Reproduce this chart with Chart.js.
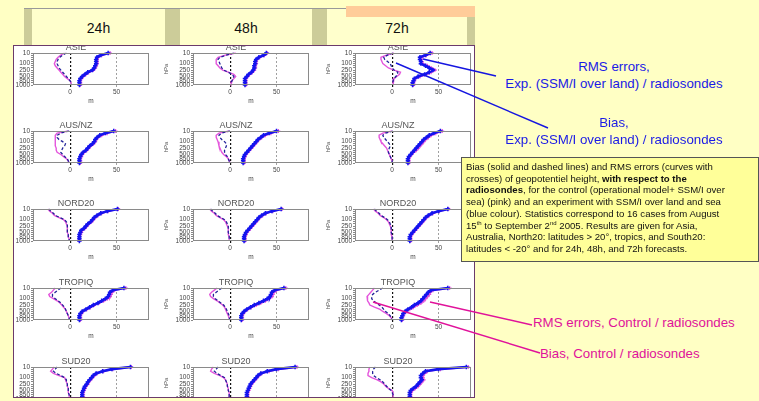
<!DOCTYPE html>
<html>
<head>
<meta charset="utf-8">
<script src="https://cdn.jsdelivr.net/npm/chart.js@4/dist/chart.umd.min.js"></script>
<style>
  body { margin: 0; width: 759px; height: 401px; overflow: hidden; background: #FFFFC4; position: relative; font-family: "Liberation Sans", Arial, sans-serif; }
  .abs { position: absolute; }
  #panel { position: absolute; left: 13px; top: 45px; width: 460px; height: 351px; background: #fff; border: 1px solid #6b3a6b; overflow: hidden; }
  #panel canvas { position: absolute; }
  .hcell { position: absolute; top: 9px; height: 36px; background: #FFFFCC; font-size: 14px; color: #111; text-align: center; line-height: 38px; }
  .sep { position: absolute; top: 9px; height: 36px; background: #CCCC99; }
  .blue { position: absolute; color: #1a1ae6; font-size: 13.3px; text-align: center; line-height: 17px; }
  .pink { position: absolute; color: #e0129a; font-size: 13.3px; }
  #note { position: absolute; left: 461px; top: 157px; width: 288px; height: 97px; padding: 3px 4px; background: #FFFF99; border: 1px solid #555; font-size: 9.6px; line-height: 11.7px; color: #111; white-space: nowrap; }
  #note sup { font-size: 6px; line-height: 0; }
</style>
</head>
<body>

<div class="abs" style="left:24px;top:8px;width:451px;height:1px;background:#999"></div>
<div class="hcell" style="left:32px;width:133px">24h</div>
<div class="hcell" style="left:180px;width:132px">48h</div>
<div class="hcell" style="left:327px;width:140px">72h</div>
<div class="sep" style="left:24px;width:8px"></div>
<div class="sep" style="left:165px;width:15px"></div>
<div class="sep" style="left:312px;width:15px"></div>
<div class="sep" style="left:467px;width:8px"></div>
<div class="abs" style="left:346px;top:6px;width:129px;height:11px;background:#FFCC99"></div>

<div id="panel"></div>

<div class="blue" style="left:480px;top:58px;width:268px">RMS errors,<br>Exp. (SSM/I over land) / radiosondes</div>
<div class="blue" style="left:480px;top:114px;width:268px">Bias,<br>Exp. (SSM/I over land) / radiosondes</div>

<div id="note">Bias (solid and dashed lines) and RMS errors (curves with<br>crosses) of geopotentiel height, <b>with respect to the</b><br><b>radiosondes</b>, for the control (operational model+ SSM/I over<br>sea) (pink) and an experiment with SSM/I over land and sea<br>(blue colour). Statistics correspond to 16 cases from August<br>15<sup>th</sup> to September 2<sup>nd</sup> 2005. Results are given for Asia,<br>Australia, North20: latitudes &gt; 20°, tropics, and South20:<br>latitudes &lt; -20° and for 24h, 48h, and 72h forecasts.</div>

<div class="pink" style="left:533px;top:315px">RMS errors, Control / radiosondes</div>
<div class="pink" style="left:540px;top:346px">Bias, Control / radiosondes</div>

<svg class="abs" style="left:0;top:0" width="759" height="401">
  <line x1="423" y1="59" x2="496" y2="76" stroke="#1515e0" stroke-width="1.4"/>
  <line x1="396" y1="63" x2="548" y2="128" stroke="#1515e0" stroke-width="1.4"/>
  <line x1="430" y1="302" x2="532" y2="325" stroke="#e0129a" stroke-width="1.4"/>
  <line x1="373" y1="302" x2="540" y2="353" stroke="#e0129a" stroke-width="1.4"/>
</svg>

<script>
// pressure levels (hPa), top to bottom
var levels = [10, 20, 30, 50, 70, 100, 150, 200, 250, 300, 400, 500, 700, 850, 925, 1000];
var shownLevels = [10, 100, 250, 500, 850, 1000];
var regions = ["ASIE", "AUS/NZ", "NORD20", "TROPIQ", "SUD20"];
var ranges = ["24h", "48h", "72h"];

// each array: [24h, 48h, 72h], values in m
var asieBiasCtrl = [
  [-6,-10,-13,-15,-16,-17,-16,-14,-12,-10,-8,-6,-3,0,1,1],
  [6,-5,-13,-15,-15,-15,-13,-11,-8,-2,4,6,4,2,1,1],
  [2,-6,-12,-12,-11,-10,-7,-4,2,9,8,5,2,1,1,1]];
var asieBiasExp = [
  [-4,-8,-11,-13,-14,-14,-13,-12,-10,-8,-6,-4,-2,0,1,1],
  [4,-4,-11,-13,-12,-11,-10,-9,-7,-2,2,4,3,2,1,1],
  [1,-5,-9,-8,-5,-2,-1,0,2,6,6,4,2,1,1,1]];
var asieRmsCtrl = [
  [43,34,30,29,29,29,28,27,25,20,17,14,12,11,11,11],
  [40,37,32,29,28,28,27,27,26,24,21,19,17,17,17,17],
  [43,37,32,31,32,33,38,42,46,42,37,30,25,24,23,23]];
var asieRmsExp = [
  [41,33,29,28,28,28,27,26,24,19,16,13,11,10,10,10],
  [39,36,31,28,27,27,26,26,25,23,20,18,16,16,16,16],
  [41,36,30,30,31,31,36,40,44,40,35,28,24,23,22,22]];

var ausBiasCtrl = [
  [-2,-14,-16,-16,-16,-16,-16,-16,-15,-15,-14,-10,-7,-4,-2,-1],
  [-1,-12,-15,-15,-14,-13,-12,-12,-11,-10,-9,-7,-4,-2,-1,0],
  [0,-10,-14,-14,-13,-12,-10,-8,-6,-5,-4,-3,-2,-1,0,0]];
var ausBiasExp = [
  [-1,-10,-14,-14,-12,-8,-5,-6,-8,-9,-10,-8,-6,-3,-2,-1],
  [0,-9,-12,-11,-9,-6,-4,-4,-5,-6,-6,-5,-3,-2,-1,0],
  [1,-7,-10,-9,-7,-5,-3,-2,-3,-4,-4,-3,-2,-1,0,0]];
var ausRmsCtrl = [
  [49,40,34,30,28,27,25,22,20,18,15,13,12,11,11,11],
  [52,44,38,34,31,29,27,25,23,21,19,17,16,15,15,15],
  [54,47,42,39,36,34,32,30,28,26,23,21,19,18,18,18]];
var ausRmsExp = [
  [47,38,32,29,27,26,24,21,19,17,14,12,11,10,10,10],
  [50,42,36,33,30,28,26,24,22,20,18,16,15,14,14,14],
  [52,45,40,37,34,32,30,28,26,24,22,20,18,17,17,17]];

var nordBiasCtrl = [
  [-24,-22,-19,-17,-12,-7,-5,-4,-3,-3,-3,-3,-2,-2,-1,-1],
  [-22,-20,-17,-15,-11,-7,-5,-4,-3,-2,-2,-2,-2,-1,-1,-1],
  [-20,-18,-15,-13,-9,-6,-4,-3,-2,-1,-1,-1,-1,0,0,0]];
var nordBiasExp = [
  [-23,-21,-18,-16,-11,-6,-4,-3,-3,-3,-3,-3,-2,-2,-1,-1],
  [-21,-19,-16,-14,-10,-6,-4,-3,-2,-2,-2,-2,-1,-1,-1,-1],
  [-19,-17,-14,-12,-8,-5,-3,-2,-1,-1,-1,-1,0,0,0,0]];
var nordRmsCtrl = [
  [52,41,34,30,27,25,23,20,18,16,13,12,11,10,10,10],
  [56,46,39,35,32,30,28,26,24,22,20,18,17,16,16,16],
  [61,51,44,40,37,35,33,31,29,27,25,23,21,20,20,20]];
var nordRmsExp = [
  [51,40,33,29,26,24,22,19,17,15,12,11,10,10,10,10],
  [55,45,38,34,31,29,27,25,23,21,19,17,16,15,15,15],
  [60,50,43,39,36,34,32,30,28,26,24,22,20,19,19,19]];

var tropBiasCtrl = [
  [-16,-18,-20,-23,-22,-18,-14,-11,-9,-7,-5,-4,-3,-2,-1,-1],
  [-14,-17,-20,-22,-21,-18,-14,-11,-8,-6,-5,-4,-3,-2,-1,0],
  [-19,-21,-23,-25,-27,-27,-26,-25,-24,-19,-13,-10,-6,-3,-1,0]];
var tropBiasExp = [
  [-10,-13,-16,-19,-19,-16,-13,-10,-8,-6,-5,-4,-3,-2,-1,-1],
  [-9,-12,-15,-18,-18,-16,-13,-10,-7,-5,-4,-3,-2,-1,-1,0],
  [-10,-14,-18,-21,-22,-22,-20,-17,-14,-11,-9,-7,-4,-2,-1,0]];
var tropRmsCtrl = [
  [60,48,45,44,43,40,36,31,26,22,18,14,12,11,11,11],
  [60,50,47,46,45,42,38,33,28,23,19,16,14,13,13,13],
  [62,44,41,40,38,36,34,31,27,23,19,15,13,12,11,11]];
var tropRmsExp = [
  [58,46,43,42,41,38,34,30,25,21,17,13,11,10,10,10],
  [58,48,45,44,43,40,36,31,26,22,18,15,13,12,12,12],
  [60,42,39,37,35,33,31,28,24,21,17,14,12,11,10,10]];

var sudBiasCtrl = [
  [-17,-19,-21,-18,-12,-6,-5,-4,-3,-3,-2,-2,-2,-1,-1,-1],
  [-18,-20,-21,-17,-11,-7,-5,-4,-3,-3,-2,-2,-1,-1,-1,0],
  [-24,-25,-25,-26,-26,-22,-16,-12,-9,-7,-4,0,1,1,1,1]];
var sudBiasExp = [
  [-14,-16,-18,-15,-10,-6,-4,-4,-3,-3,-2,-2,-2,-1,-1,-1],
  [-13,-15,-17,-14,-10,-6,-5,-4,-3,-3,-2,-2,-1,-1,-1,0],
  [-18,-20,-21,-21,-20,-17,-13,-10,-8,-6,-4,-1,0,1,1,1]];
var sudRmsCtrl = [
  [66,46,36,29,26,24,22,20,19,17,16,15,14,14,14,14],
  [72,52,42,34,31,29,27,25,23,22,21,20,19,19,19,19],
  [82,52,38,35,33,33,34,32,30,28,25,22,20,20,20,20]];
var sudRmsExp = [
  [65,45,35,28,25,23,21,19,18,16,15,14,13,13,13,13],
  [70,50,40,33,30,28,26,24,22,21,20,19,18,18,18,18],
  [80,50,36,33,31,31,32,30,28,26,23,20,19,19,19,19]];

var regionData = [
  [asieBiasCtrl, asieBiasExp, asieRmsCtrl, asieRmsExp],
  [ausBiasCtrl, ausBiasExp, ausRmsCtrl, ausRmsExp],
  [nordBiasCtrl, nordBiasExp, nordRmsCtrl, nordRmsExp],
  [tropBiasCtrl, tropBiasExp, tropRmsCtrl, tropRmsExp],
  [sudBiasCtrl, sudBiasExp, sudRmsCtrl, sudRmsExp]
];

var pink = "#e455dc";
var blue = "#1414ee";
var navy = "#22229a";

// plot box positions on the page
var colBox = [33, 193, 355];
var rowBox = [53, 131, 209, 288, 367];
var axisW = 30, titleH = 10, boxW = 116, boxH = 32, xAxisH = 20, padR = 6;

var framePlugin = {
  id: "frame",
  afterDraw: function(chart) {
    var a = chart.chartArea, ctx = chart.ctx;
    ctx.save();
    ctx.strokeStyle = "#8a8a8a";
    ctx.lineWidth = 1;
    ctx.strokeRect(a.left + 0.5, a.top + 0.5, a.right - a.left - 1, a.bottom - a.top - 1);
    ctx.restore();
  }
};

var panel = document.getElementById("panel");

for (var r = 0; r < regions.length; r++) {
  for (var c = 0; c < ranges.length; c++) {
    var cv = document.createElement("canvas");
    cv.width = axisW + boxW + padR;
    cv.height = titleH + boxH + xAxisH;
    cv.style.left = (colBox[c] - axisW - 14) + "px";
    cv.style.top = (rowBox[r] - titleH - 46) + "px";
    panel.appendChild(cv);

    var d = regionData[r];
    new Chart(cv, {
      type: "line",
      data: {
        labels: levels,
        datasets: [
          { data: d[3][c], borderColor: blue, backgroundColor: blue, borderWidth: 2.6,
            pointStyle: "cross", pointRadius: 2.2, pointBorderWidth: 1.5, pointBorderColor: blue },
          { data: d[2][c], borderColor: pink, backgroundColor: pink, borderWidth: 2,
            pointStyle: "cross", pointRadius: 2, pointBorderWidth: 1.2, pointBorderColor: pink },
          { data: d[1][c], borderColor: navy, borderWidth: 1.3, borderDash: [3, 2], pointRadius: 0 },
          { data: d[0][c], borderColor: pink, borderWidth: 1.4, pointRadius: 0 }
        ]
      },
      options: {
        indexAxis: "y",
        responsive: false,
        animation: false,
        devicePixelRatio: 1,
        layout: { padding: { left: 0, right: padR, top: 0, bottom: 0 } },
        plugins: {
          legend: { display: false },
          tooltip: { enabled: false },
          title: { display: true, text: regions[r], color: "#555",
                   font: { size: 9, weight: "normal", lineHeight: 1, family: "Liberation Sans" },
                   padding: { top: 0, bottom: 1 } }
        },
        scales: {
          x: {
            type: "linear", min: -40, max: 85,
            afterBuildTicks: function(axis) { axis.ticks = [{ value: 0 }, { value: 50 }]; },
            afterFit: function(s) { s.height = xAxisH; },
            ticks: { font: { size: 6.5 }, color: "#444", padding: 1 },
            grid: {
              drawTicks: true, tickLength: 2,
              color: function(ctx) { return ctx.tick && ctx.tick.value === 0 ? "#111" : "#888"; },
              lineWidth: function(ctx) { return ctx.tick && ctx.tick.value === 0 ? 1.2 : 0.8; }
            },
            border: { display: false, dash: [2, 2] },
            title: { display: true, text: "m", font: { size: 6.5 }, color: "#444", padding: { top: 0, bottom: 0 } }
          },
          y: {
            type: "category",
            afterFit: function(s) { s.width = axisW; },
            ticks: {
              autoSkip: false, font: { size: 6.5 }, color: "#444", padding: 1,
              callback: function(v, i) { return shownLevels.indexOf(levels[i]) >= 0 ? String(levels[i]) : ""; }
            },
            grid: { drawOnChartArea: false, tickLength: 2, color: "#888" },
            border: { display: false },
            title: { display: true, text: "hPa", font: { size: 6 }, color: "#555", padding: 0 }
          }
        }
      },
      plugins: [framePlugin]
    });
  }
}
</script>
</body>
</html>
